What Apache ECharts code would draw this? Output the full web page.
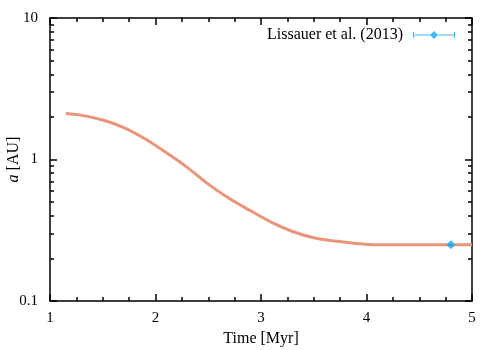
<!DOCTYPE html>
<html>
<head>
<meta charset="utf-8">
<script src="https://cdn.jsdelivr.net/npm/echarts@6/dist/echarts.min.js"></script>
<style>
  html, body { margin: 0; padding: 0; background: #fff; }
  #chart { width: 486px; height: 350px; }
</style>
</head>
<body>
<div id="chart"></div>
<script>
// model curve: semi-major axis vs time
const timeMyr = [1.15, 1.3, 1.5, 1.7, 1.9, 2.1, 2.3, 2.5, 2.7, 2.9, 3.1, 3.3, 3.5, 3.7, 3.9, 4.1, 4.4, 4.7, 5.0]
const semiMajor = [2.11, 2.05, 1.9, 1.68, 1.4, 1.12, 0.88, 0.67, 0.53, 0.435, 0.36, 0.31, 0.28, 0.265, 0.255, 0.25, 0.25, 0.25, 0.25]

// observed point
const obsTime = [4.8]
const obsA = [0.25]
const obsLabel = 'Lissauer et al. (2013)'

// y tick values (log axis)
const yMajor = [0.1, 1, 10]
const yMinor = [0.2, 0.3, 0.4, 0.5, 0.6, 0.7, 0.8, 0.9, 2, 3, 4, 5, 6, 7, 8, 9]

const FONT = 'Liberation Serif'
const ink = '#000'

const chart = echarts.init(document.getElementById('chart'))

const xBase = {
  type: 'value', min: 1, max: 5, interval: 1,
  axisLine: { onZero: false, lineStyle: { color: ink, width: 1.5 } },
  axisTick: { show: true, inside: true, length: 7, lineStyle: { color: ink, width: 1.5 } },
  minorTick: { show: true, splitNumber: 4, length: 4, lineStyle: { color: ink, width: 1.5 } },
  splitLine: { show: false }
}
// tick-only axes: log10 of the tick values on a linear -1..1 axis
const tickAxis = (pos, vals, len) => ({
  type: 'value', min: -1, max: 1, position: pos,
  axisLine: { show: false, onZero: false },
  axisTick: { show: true, inside: true, length: len, customValues: vals.map(v => Math.log10(v)), lineStyle: { color: ink, width: 1.5 } },
  axisLabel: { show: false },
  splitLine: { show: false }
})

chart.setOption({
  animation: false,
  grid: { left: 50, right: 14, top: 18, bottom: 49, outerBoundsMode: 'none', containLabel: false },
  legend: {
    right: 26, top: 22,
    align: 'right',
    itemWidth: 42, itemHeight: 8, itemGap: 10,
    textStyle: { fontFamily: FONT, fontSize: 16, color: ink, padding: [0, 5, 0, 0] },
    data: [{
      name: obsLabel,
      icon: 'path://M0,3.5h42v1h-42z M0,1h1v6h-1z M41,1h1v6h-1z M21,0l4,4l-4,4l-4,-4z'
    }]
  },
  xAxis: [
    Object.assign({}, xBase, {
      position: 'bottom',
      name: 'Time [Myr]', nameLocation: 'middle', nameGap: 30, nameMoveOverlap: false,
      nameTextStyle: { fontFamily: FONT, fontSize: 16, color: ink },
      axisLabel: { fontFamily: FONT, fontSize: 15, color: ink, margin: 10 }
    }),
    Object.assign({}, xBase, { position: 'top', axisLabel: { show: false } })
  ],
  yAxis: [
    {
      type: 'log', logBase: 10, min: 0.1, max: 10, position: 'left',
      axisLine: { onZero: false, lineStyle: { color: ink, width: 1.5 } },
      axisTick: { show: true, inside: true, length: 7, lineStyle: { color: ink, width: 1.5 } },
      axisLabel: { fontFamily: FONT, fontSize: 15, color: ink, margin: 12 },
      splitLine: { show: false },
      name: '{i|a} [AU]', nameLocation: 'middle', nameGap: 28, nameMoveOverlap: false,
      nameTextStyle: {
        fontFamily: FONT, fontSize: 16, color: ink,
        rich: { i: { fontFamily: FONT, fontStyle: 'italic', fontSize: 16, color: ink } }
      }
    },
    tickAxis('left', yMinor, 4),
    Object.assign(tickAxis('right', yMajor, 7), { axisLine: { show: true, onZero: false, lineStyle: { color: ink, width: 1.5 } } }),
    tickAxis('right', yMinor, 4)
  ],
  series: [
    {
      name: 'model',
      type: 'line',
      data: timeMyr.map((t, i) => [t, semiMajor[i]]),
      smooth: 0.3,
      showSymbol: false,
      lineStyle: { color: '#e8957a', width: 3 },
      z: 2
    },
    {
      name: obsLabel,
      type: 'scatter',
      data: obsTime.map((t, i) => [t, obsA[i]]),
      symbol: 'diamond',
      symbolSize: 9,
      itemStyle: { color: '#12a6f5' },
      z: 3
    }
  ]
})
</script>
</body>
</html>
